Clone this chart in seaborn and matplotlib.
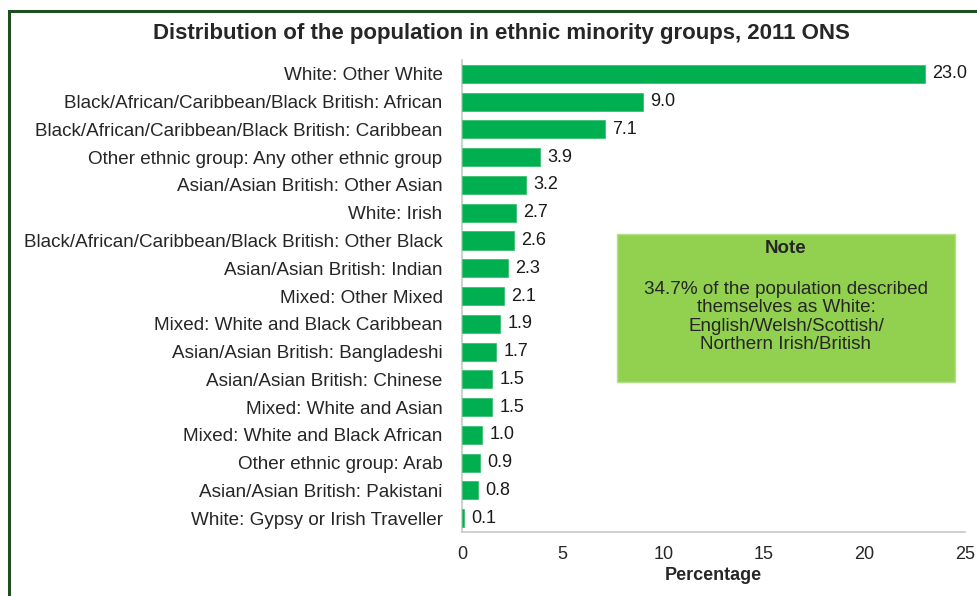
import matplotlib
matplotlib.use("Agg")
import matplotlib.pyplot as plt
import seaborn as sns
import pandas as pd
from matplotlib.patches import Rectangle

groups = [
    "White: Other White",
    "Black/African/Caribbean/Black British: African",
    "Black/African/Caribbean/Black British: Caribbean",
    "Other ethnic group: Any other ethnic group",
    "Asian/Asian British: Other Asian",
    "White: Irish",
    "Black/African/Caribbean/Black British: Other Black",
    "Asian/Asian British: Indian",
    "Mixed: Other Mixed",
    "Mixed: White and Black Caribbean",
    "Asian/Asian British: Bangladeshi",
    "Asian/Asian British: Chinese",
    "Mixed: White and Asian",
    "Mixed: White and Black African",
    "Other ethnic group: Arab",
    "Asian/Asian British: Pakistani",
    "White: Gypsy or Irish Traveller",
]
percentages = [23.0, 9.0, 7.1, 3.9, 3.2, 2.7, 2.6, 2.3, 2.1, 1.9, 1.7, 1.5, 1.5, 1.0, 0.9, 0.8, 0.1]
x_ticks = [0, 5, 10, 15, 20, 25]

df = pd.DataFrame({"group": groups, "pct": percentages})

sns.set_style("white")
plt.rcParams["font.family"] = ["Liberation Sans", "DejaVu Sans"]

fig = plt.figure(figsize=(9.78, 5.96), dpi=100)
ax = fig.add_axes([0.4724, 0.1074, 0.5143, 0.7919])

sns.barplot(data=df, x="pct", y="group", color="#00B050", saturation=1,
            width=0.65, orient="h", ax=ax, edgecolor="#3cc070", linewidth=0.6, zorder=3)

for i, v in enumerate(percentages):
    ax.text(v + 0.35, i, f"{v:.1f}", va="center", ha="left", fontsize=13, color="#1a1a1a")

ax.set_xlim(0, 25)
ax.set_xticks(x_ticks)
ax.set_xticklabels([str(t) for t in x_ticks], fontsize=13)
ax.tick_params(axis="x", direction="out", length=5, color="#bfbfbf", width=1, pad=5)
ax.tick_params(axis="y", length=0, pad=14, labelsize=13.6)
ax.set_ylabel("")
ax.set_xlabel("Percentage", fontsize=13, fontweight="bold", labelpad=3)

for side in ["top", "right"]:
    ax.spines[side].set_visible(False)
for side in ["left", "bottom"]:
    ax.spines[side].set_color("#c8c8c8")
    ax.spines[side].set_linewidth(1.2)
    ax.spines[side].set_zorder(1)

fig.text(0.513, 1 - 34 / 596, "Distribution of the population in ethnic minority groups, 2011 ONS",
         ha="center", va="center", fontsize=16, fontweight="bold")

# note box
fig.patches.append(Rectangle((617 / 978, 1 - 382 / 596), (955 - 617) / 978, (382 - 234) / 596,
                             transform=fig.transFigure, facecolor="#92D050",
                             edgecolor="#b5e08a", linewidth=1))
fig.text((617 + 955) / 2 / 978, 1 - 248 / 596, "Note", ha="center", va="center",
         fontsize=13.5, fontweight="bold")
fig.text((617 + 955) / 2 / 978, 1 - 317 / 596,
         "34.7% of the population described\nthemselves as White:\nEnglish/Welsh/Scottish/\nNorthern Irish/British",
         ha="center", va="center", fontsize=13.6, linespacing=1.1)

# outer frame
fig.patches.append(Rectangle((8.5 / 978, -0.1), 1.2, 1 - 10.5 / 596 + 0.1,
                             transform=fig.transFigure, facecolor="none",
                             edgecolor="#1e4d1e", linewidth=2.2))

fig.savefig("out.png", dpi=100)
